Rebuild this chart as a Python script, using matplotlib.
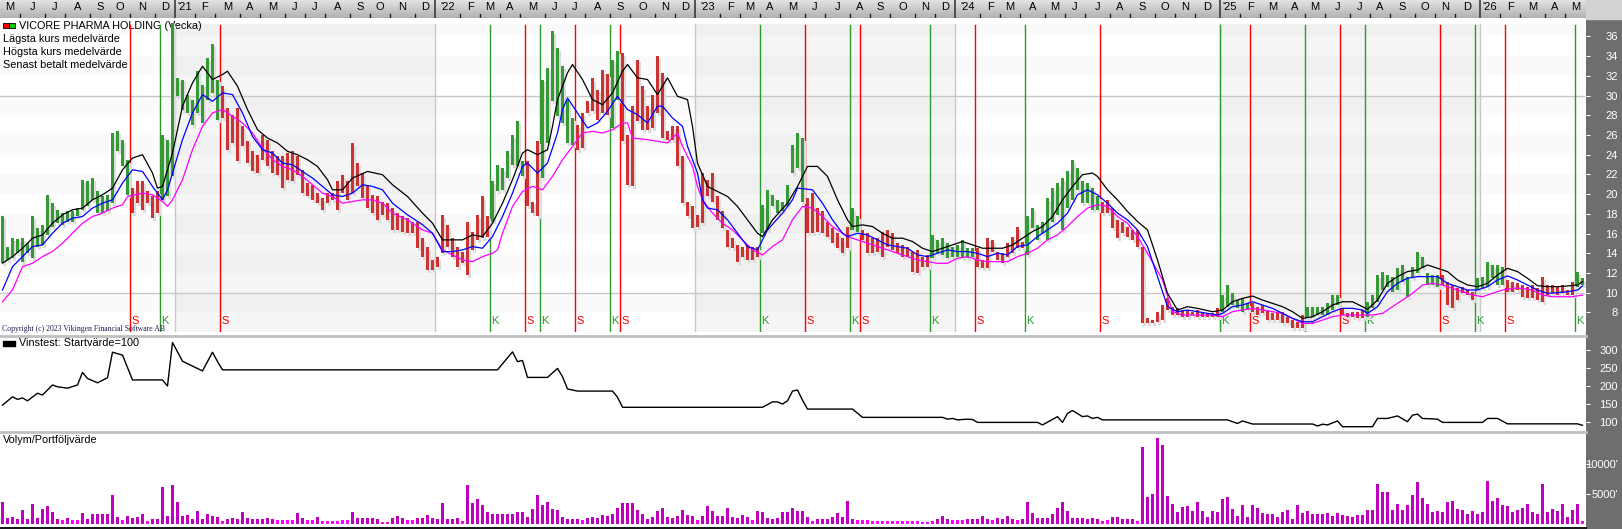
import matplotlib
matplotlib.use("Agg")
import matplotlib.pyplot as plt
import matplotlib.transforms as mtransforms
from matplotlib.colors import LinearSegmentedColormap
from matplotlib.lines import Line2D
from matplotlib.patches import Rectangle
import numpy as np
import pandas as pd

plt.rcParams["font.family"] = ["Liberation Sans", "DejaVu Sans"]

W, H = 1622, 529
PLOT_RIGHT = 1586

first_monday = "2020-05-04"

# weekly high / low (SEK)
highs = [
    17.73, 14.68, 15.53, 15.42, 15.53, 15.02, 17.73, 16.54, 16.88, 19.93,
    19.08, 18.41, 18.07, 18.24, 18.24, 18.58, 21.46, 21.29, 21.63, 20.27,
    19.76, 19.93, 26.2, 26.37, 25.53, 23.49, 20.61, 21.29, 21.29, 20.27,
    19.76, 20.27, 26.03, 25.53, 37.39, 31.8, 31.63, 30.1, 29.59, 32.47,
    31.12, 33.83, 35.19, 31.63, 30.95, 28.75, 28.07, 28.75, 26.88, 25.36,
    24.34, 24.0, 26.03, 25.53, 24.34, 23.83, 23.83, 24.17, 24.34, 23.83,
    22.47, 21.12, 20.95, 20.1, 19.59, 20.1, 20.1, 21.29, 21.97, 21.29,
    25.19, 23.15, 22.14, 20.95, 19.93, 19.76, 19.25, 19.08, 18.58, 18.07,
    17.73, 17.56, 17.22, 17.22, 15.53, 14.68, 13.32, 13.66, 17.9, 16.88,
    15.53, 14.68, 14.17, 17.22, 16.2, 17.9, 19.76, 17.73, 21.29, 22.98,
    22.64, 24.34, 26.03, 27.39, 23.32, 23.32, 19.25, 25.36, 31.63, 32.81,
    36.54, 34.85, 32.98, 29.59, 27.73, 27.05, 28.24, 29.42, 31.8, 30.61,
    32.64, 32.14, 33.66, 34.51, 34.34, 26.03, 28.92, 33.66, 30.95, 28.92,
    30.1, 34.0, 32.31, 26.37, 26.88, 26.88, 23.83, 19.25, 18.75, 17.9,
    22.14, 21.46, 22.14, 19.76, 18.24, 16.37, 15.53, 14.85, 14.68, 14.85,
    14.68, 14.68, 18.92, 20.44, 19.93, 19.42, 19.25, 20.95, 25.02, 26.2,
    25.69, 19.59, 20.1, 18.58, 18.24, 17.22, 16.54, 16.03, 15.53, 16.71,
    18.58, 17.73, 16.37, 16.03, 15.53, 15.53, 16.2, 16.37, 16.03, 15.02,
    14.85, 14.68, 14.17, 14.34, 13.66, 13.83, 15.86, 15.36, 15.53, 15.02,
    14.68, 14.85, 15.36, 14.51, 14.51, 14.51, 13.32, 15.53, 15.36, 14.17,
    14.0, 15.02, 15.69, 16.71, 15.19, 17.73, 18.58, 16.88, 17.22, 19.59,
    20.61, 21.12, 21.63, 22.3, 23.49, 22.64, 21.29, 21.12, 20.61, 19.76,
    19.25, 19.42, 18.58, 17.39, 17.22, 16.71, 16.37, 16.37, 14.68, 7.39,
    7.22, 8.07, 8.75, 9.42, 8.58, 8.41, 8.24, 8.24, 8.07, 8.24,
    8.07, 7.97, 7.97, 8.41, 9.76, 10.78, 9.93, 9.25, 9.42, 8.92,
    8.92, 8.58, 8.75, 8.24, 7.9, 7.9, 8.07, 7.56, 7.22, 7.05,
    7.73, 8.58, 8.58, 8.58, 8.58, 8.92, 9.76, 9.76, 8.41, 7.9,
    8.07, 8.07, 8.24, 9.08, 9.76, 11.8, 12.14, 11.8, 11.63, 12.47,
    12.81, 11.63, 12.64, 14.17, 13.66, 11.97, 11.8, 11.8, 11.8, 11.12,
    10.78, 10.44, 10.61, 10.27, 10.1, 11.46, 11.63, 13.15, 12.81, 12.81,
    12.64, 11.29, 11.12, 10.95, 10.78, 10.61, 10.78, 10.44, 11.63, 10.78,
    10.78, 10.61, 10.78, 10.27, 11.12, 12.14, 11.46,
]
lows = [
    12.98, 13.32, 13.49, 14.0, 13.15, 14.0, 13.49, 14.68, 14.85, 15.86,
    16.71, 17.05, 16.88, 17.22, 17.22, 17.73, 18.41, 18.75, 19.42, 18.07,
    18.07, 18.24, 19.08, 24.34, 22.81, 19.93, 18.07, 19.08, 18.41, 19.08,
    17.56, 18.07, 19.42, 19.76, 21.8, 29.93, 28.58, 28.24, 27.05, 28.24,
    27.22, 29.59, 30.27, 27.56, 27.73, 24.51, 25.19, 23.32, 24.85, 23.15,
    22.3, 22.14, 23.49, 22.81, 22.14, 21.97, 20.61, 21.46, 21.29, 21.97,
    20.1, 19.76, 19.42, 19.08, 18.41, 19.08, 19.42, 18.41, 20.1, 19.42,
    20.1, 20.78, 19.59, 18.58, 18.07, 17.39, 17.9, 17.39, 16.37, 16.37,
    16.2, 16.03, 16.03, 14.51, 13.66, 12.31, 12.31, 12.64, 14.0, 14.68,
    13.66, 12.64, 12.98, 11.8, 14.34, 15.36, 15.53, 15.69, 17.22, 20.27,
    20.44, 21.63, 22.98, 22.81, 21.8, 18.75, 18.07, 17.73, 21.63, 25.19,
    29.42, 27.9, 27.22, 25.19, 25.02, 24.51, 24.68, 28.24, 28.41, 27.56,
    28.24, 28.07, 26.71, 29.59, 25.36, 20.95, 20.78, 27.39, 26.54, 26.54,
    26.71, 28.24, 25.69, 25.53, 25.53, 22.81, 19.08, 17.73, 16.54, 16.71,
    17.05, 19.76, 19.25, 17.39, 16.54, 14.68, 14.51, 13.15, 13.66, 13.32,
    13.32, 13.66, 16.03, 16.37, 18.75, 18.07, 18.24, 18.75, 22.14, 22.64,
    19.25, 16.03, 16.03, 16.2, 16.03, 15.69, 15.02, 14.51, 14.0, 14.51,
    16.37, 16.2, 15.36, 14.0, 14.0, 14.17, 13.66, 14.68, 14.34, 14.0,
    13.66, 13.66, 12.14, 11.97, 12.64, 12.64, 13.49, 14.0, 13.83, 13.49,
    13.66, 13.66, 13.49, 13.49, 13.66, 12.64, 12.47, 12.47, 14.17, 13.32,
    12.98, 13.66, 14.0, 14.51, 14.51, 13.83, 16.54, 15.36, 16.03, 15.36,
    17.22, 17.9, 16.37, 18.58, 19.42, 20.44, 19.08, 19.08, 18.41, 18.41,
    18.07, 18.07, 16.54, 15.53, 16.03, 15.69, 15.36, 14.68, 6.88, 6.88,
    6.88, 7.05, 7.22, 8.24, 7.73, 7.73, 7.56, 7.56, 7.73, 7.56,
    7.56, 7.56, 7.56, 7.56, 8.07, 8.58, 8.75, 8.41, 8.07, 8.24,
    8.07, 7.73, 7.9, 7.22, 7.22, 7.22, 6.88, 6.88, 6.37, 6.37,
    6.37, 7.39, 7.56, 7.73, 7.73, 7.73, 8.24, 8.75, 7.73, 7.56,
    7.56, 7.39, 7.39, 7.56, 8.41, 9.08, 10.27, 10.61, 10.1, 10.27,
    11.12, 9.59, 11.46, 11.97, 12.47, 10.78, 10.78, 10.61, 10.78, 8.75,
    8.41, 9.25, 9.93, 9.76, 9.25, 10.27, 10.44, 10.61, 11.46, 10.78,
    10.78, 10.1, 10.1, 10.27, 9.59, 9.42, 9.42, 9.25, 9.08, 9.76,
    9.93, 9.76, 9.93, 9.76, 9.76, 10.61, 10.78,
]

# K = köp (buy), S = sälj (sell), as week numbers
buy_weeks = [32, 98, 108, 122, 152, 170, 186, 205, 244, 261, 273, 295, 315]
sell_weeks = [26, 44, 105, 115, 124, 161, 172, 195, 220, 250, 268, 288, 301]

# moving averages (week, value)
high_avg_weeks = [
    0, 2, 4, 6, 8, 10, 12, 14, 16, 18, 20, 22, 24, 26, 28, 30, 31, 32, 34, 36,
    38, 40, 42, 44, 45, 47, 49, 51, 53, 55, 57, 59, 61, 63, 65, 66, 68, 70, 73, 76,
    78, 81, 84, 86, 88, 90, 92, 94, 96, 98, 100, 102, 104, 105, 107, 109, 110, 111, 113, 114,
    116, 118, 120, 122, 124, 125, 127, 129, 131, 133, 135, 137, 138, 139, 141, 143, 145, 147, 149, 151,
    152, 154, 157, 159, 161, 163, 165, 167, 169, 170, 172, 174, 176, 178, 180, 182, 184, 186, 188, 190,
    192, 194, 196, 198, 200, 202, 204, 206, 208, 210, 212, 214, 216, 218, 219, 221, 223, 225, 227, 229,
    231, 233, 235, 237, 239, 242, 244, 246, 248, 250, 252, 254, 256, 258, 260, 262, 264, 266, 268, 270,
    272, 273, 275, 277, 279, 281, 283, 285, 287, 289, 291, 293, 295, 297, 299, 301, 303, 305, 307, 309,
    311, 313, 315, 316,
]
high_avg = [
    13.0, 13.66, 14.51, 15.53, 15.86, 17.05, 17.9, 18.41, 18.58, 19.42, 19.93, 20.61, 22.47, 23.66, 24.0, 22.14, 20.61, 20.78, 24.17, 28.92,
    31.29, 32.98, 31.63, 32.14, 32.47, 30.95, 28.58, 26.54, 25.69, 25.19, 24.34, 24.0, 23.49, 22.81, 21.46, 20.44, 20.44, 21.63, 22.3, 21.97,
    20.95, 19.76, 18.07, 17.05, 15.36, 15.36, 15.36, 15.86, 15.69, 17.05, 19.08, 21.46, 24.17, 24.51, 24.0, 24.51, 26.88, 29.59, 32.31, 33.15,
    31.63, 29.59, 29.08, 30.27, 32.47, 33.15, 31.8, 31.63, 30.1, 31.8, 29.93, 29.59, 26.88, 23.15, 20.78, 20.27, 19.76, 18.75, 17.39, 16.03,
    15.69, 17.39, 19.08, 20.78, 22.81, 22.81, 21.8, 19.42, 17.39, 16.71, 16.88, 16.71, 16.03, 15.53, 15.53, 15.19, 14.51, 14.17, 14.51, 14.85,
    15.19, 14.85, 14.51, 14.51, 14.51, 14.85, 15.53, 16.2, 16.71, 17.73, 19.42, 20.78, 21.97, 22.14, 21.8, 20.44, 19.42, 18.24, 17.22, 16.37,
    13.32, 9.93, 8.24, 8.58, 8.41, 8.07, 8.24, 9.08, 9.42, 9.66, 9.25, 8.92, 8.58, 8.07, 7.39, 7.56, 8.07, 8.75, 9.08, 9.08,
    8.58, 8.31, 9.25, 10.95, 11.63, 12.14, 12.31, 12.81, 12.47, 12.14, 11.29, 10.78, 10.61, 10.95, 11.8, 12.47, 12.14, 11.46, 10.71, 10.61,
    10.61, 10.68, 10.78, 11.12,
]
close_avg_weeks = [
    0, 2, 4, 6, 8, 10, 12, 14, 16, 18, 20, 22, 24, 26, 28, 30, 32, 33, 34, 36,
    38, 40, 42, 44, 46, 48, 50, 52, 54, 56, 58, 60, 62, 64, 66, 68, 70, 72, 74, 76,
    78, 81, 84, 86, 88, 90, 92, 94, 96, 98, 100, 102, 104, 105, 107, 109, 111, 112, 113, 115,
    117, 119, 121, 123, 125, 127, 129, 131, 132, 134, 136, 137, 139, 140, 141, 143, 145, 147, 149, 151,
    153, 156, 158, 159, 162, 164, 166, 168, 169, 171, 173, 175, 177, 179, 181, 183, 185, 187, 189, 191,
    193, 195, 197, 199, 201, 203, 205, 207, 209, 211, 213, 215, 217, 219, 221, 223, 225, 227, 229, 231,
    233, 235, 237, 239, 241, 243, 244, 246, 248, 250, 252, 254, 256, 258, 260, 262, 264, 266, 268, 270,
    272, 273, 275, 277, 279, 281, 283, 285, 287, 289, 291, 293, 295, 297, 299, 301, 303, 305, 307, 309,
    311, 313, 315, 316,
]
close_avg = [
    10.27, 12.64, 13.66, 14.68, 14.85, 16.03, 17.05, 17.56, 17.73, 18.58, 19.08, 19.42, 21.12, 22.47, 22.3, 20.78, 19.42, 20.44, 22.14, 25.53,
    28.24, 30.1, 29.42, 30.27, 30.1, 28.24, 25.86, 24.51, 24.17, 23.15, 22.98, 22.3, 21.63, 20.78, 19.93, 19.76, 20.1, 20.95, 20.78, 20.44,
    19.08, 17.9, 16.9, 16.03, 14.17, 14.17, 14.34, 14.68, 14.51, 15.69, 17.73, 20.1, 22.81, 23.15, 22.14, 23.15, 26.2, 28.58, 29.76, 28.24,
    26.71, 27.22, 28.41, 29.93, 28.58, 28.07, 27.22, 28.92, 28.92, 27.73, 26.88, 24.85, 22.14, 19.42, 18.58, 18.41, 17.39, 16.03, 14.68, 14.34,
    16.37, 18.07, 19.42, 20.61, 20.44, 19.08, 17.39, 16.03, 15.69, 16.03, 15.86, 15.36, 14.85, 14.68, 14.51, 13.83, 13.66, 14.0, 14.34, 14.17,
    14.17, 14.0, 13.66, 14.0, 13.83, 14.68, 14.85, 15.69, 16.37, 17.05, 18.07, 19.93, 20.44, 19.93, 19.08, 18.07, 17.39, 16.37, 14.68, 11.63,
    8.58, 8.07, 8.24, 8.07, 7.9, 7.73, 7.9, 8.58, 8.75, 9.08, 8.75, 8.41, 7.9, 7.39, 7.05, 7.05, 7.56, 8.07, 8.41, 8.41,
    8.24, 7.9, 8.58, 10.1, 10.95, 11.46, 11.63, 11.63, 11.63, 10.95, 10.61, 10.27, 10.27, 10.61, 11.29, 11.7, 11.29, 10.78, 10.27, 9.93,
    10.0, 10.1, 10.27, 10.68,
]
low_avg_weeks = [
    0, 2, 4, 6, 8, 10, 12, 14, 16, 18, 20, 22, 24, 25, 28, 30, 32, 33, 34, 36,
    38, 40, 42, 44, 46, 48, 50, 52, 54, 56, 58, 60, 62, 64, 66, 68, 70, 72, 74, 76,
    78, 81, 84, 86, 88, 90, 92, 94, 96, 98, 99, 100, 102, 104, 106, 108, 110, 112, 114, 116,
    118, 120, 122, 124, 125, 126, 129, 131, 133, 135, 136, 138, 139, 140, 142, 144, 146, 148, 150, 152,
    154, 156, 158, 160, 162, 164, 166, 168, 169, 171, 173, 175, 177, 179, 181, 183, 185, 187, 189, 191,
    193, 195, 197, 199, 201, 203, 205, 207, 209, 211, 213, 215, 217, 219, 221, 223, 225, 227, 229, 232,
    234, 236, 238, 240, 242, 244, 246, 248, 250, 252, 254, 256, 258, 260, 262, 264, 266, 268, 270, 272,
    274, 276, 278, 280, 282, 284, 286, 288, 290, 292, 294, 296, 298, 300, 302, 304, 306, 308, 310, 312,
    314, 316,
]
low_avg = [
    9.08, 10.27, 12.64, 12.98, 13.66, 14.17, 15.02, 16.03, 17.05, 17.73, 18.07, 18.58, 18.92, 19.76, 20.1, 19.93, 19.25, 18.75, 19.42, 21.46,
    24.51, 26.88, 28.24, 28.58, 27.9, 27.22, 26.2, 24.68, 23.49, 22.81, 22.47, 21.8, 20.95, 20.1, 19.76, 19.08, 19.25, 19.42, 19.42, 19.08,
    18.07, 17.39, 16.37, 16.03, 14.34, 13.83, 13.32, 13.15, 13.66, 14.0, 14.34, 16.03, 18.75, 20.27, 20.78, 20.44, 21.8, 23.49, 24.85, 26.2,
    26.37, 26.2, 26.54, 27.22, 27.22, 25.69, 25.53, 25.36, 25.19, 26.2, 24.85, 22.81, 20.78, 19.42, 18.07, 17.05, 16.37, 15.36, 14.34, 13.83,
    14.68, 15.36, 17.39, 18.75, 18.58, 17.73, 16.71, 16.03, 15.69, 15.36, 15.02, 14.68, 14.34, 14.0, 13.66, 13.32, 13.15, 12.98, 12.98, 13.49,
    13.66, 13.32, 13.15, 13.15, 13.15, 13.66, 14.0, 14.51, 15.36, 15.86, 16.71, 17.73, 18.58, 18.92, 18.75, 17.73, 17.05, 15.69, 14.0, 11.29,
    8.07, 7.73, 7.73, 7.73, 7.73, 7.56, 8.07, 8.24, 8.41, 8.24, 8.07, 7.9, 7.39, 6.88, 6.88, 7.22, 7.56, 7.73, 7.73, 7.73,
    7.73, 7.9, 8.58, 9.25, 9.93, 10.78, 10.95, 10.78, 10.44, 10.1, 9.76, 9.59, 9.93, 10.27, 10.44, 10.44, 10.27, 9.76, 9.59, 9.59,
    9.59, 9.76,
]

# "Vinstest" portfolio value, start value 100 (week, value)
vinst_weeks = [
    0, 2, 3, 4, 5, 7, 8, 10, 11, 13, 15, 16, 17, 19, 21, 22, 24, 26, 32, 33,
    34, 36, 40, 42, 43, 44, 99, 102, 103, 104, 105, 109, 111, 112, 113, 114, 115, 122, 123, 124,
    152, 154, 155, 156, 157, 158, 159, 160, 161, 170, 172, 188, 189, 190, 191, 193, 194, 195, 207, 208,
    211, 212, 213, 214, 216, 217, 218, 219, 220, 245, 246, 247, 248, 250, 262, 263, 264, 265, 267, 268,
    274, 275, 277, 279, 281, 282, 283, 284, 287, 288, 296, 297, 299, 301, 315, 316,
]
vinst_value = [
    146, 169, 162, 166, 158, 179, 174, 202, 197, 193, 202, 237, 220, 208, 222, 293, 285, 216, 216, 199,
    320, 268, 241, 293, 267, 244, 244, 294, 267, 270, 223, 223, 248, 225, 191, 188, 185, 185, 168, 140,
    140, 155, 155, 149, 158, 185, 188, 160, 135, 135, 112, 112, 107, 109, 105, 107, 106, 98, 98, 91,
    114, 98, 123, 131, 114, 116, 109, 112, 105, 105, 100, 95, 102, 93.5, 93.5, 88, 93, 91, 102, 86,
    86, 109, 109, 116, 100, 118, 121, 109, 107, 98, 98, 109, 109, 94, 94, 90,
]

# weekly volume, thousands of shares
volume = [
    3640, 860, 1030, 750, 2250, 690, 3250, 920, 2420, 2920,
    1920, 750, 580, 920, 580, 580, 1750, 750, 1580, 1580,
    1640, 1640, 4750, 1030, 640, 1250, 920, 1140, 1580, 470,
    750, 750, 6140, 1250, 6480, 3590, 1310, 1420, 750, 2080,
    690, 1580, 1310, 1080, 470, 690, 970, 690, 1920, 860,
    690, 690, 750, 860, 750, 580, 580, 580, 580, 1750,
    920, 580, 640, 1030, 420, 420, 420, 420, 580, 580,
    1920, 970, 860, 860, 860, 690, 250, 250, 920, 1250,
    860, 530, 530, 920, 970, 1470, 920, 690, 3420, 810,
    810, 860, 470, 6420, 3480, 4090, 3090, 1970, 1580, 1580,
    1580, 1580, 1580, 1970, 1970, 1030, 2360, 4750, 3090, 3590,
    2360, 2250, 1030, 810, 750, 750, 580, 920, 1030, 920,
    1420, 1250, 1580, 2580, 3420, 3420, 3420, 2250, 1580, 750,
    1080, 2080, 2530, 1080, 920, 1190, 2250, 1420, 1250, 580,
    1250, 2920, 2080, 1250, 1250, 2530, 1030, 920, 1420, 1030,
    580, 2080, 1970, 920, 690, 920, 1920, 1920, 2580, 2080,
    2080, 1080, 470, 750, 750, 750, 1080, 1750, 1080, 3810,
    750, 580, 580, 580, 470, 470, 470, 470, 470, 470,
    470, 470, 360, 360, 310, 310, 360, 750, 1250, 750,
    580, 580, 580, 750, 750, 750, 1250, 750, 580, 920,
    750, 1250, 750, 580, 750, 3590, 1750, 860, 860, 860,
    1580, 2640, 3590, 2080, 920, 920, 860, 750, 860, 750,
    420, 580, 1080, 1080, 750, 750, 750, 420, 12740, 4420,
    4920, 14260, 13090, 4590, 3250, 1920, 2750, 2920, 2080, 3590,
    2080, 1080, 2080, 1920, 4090, 4420, 2420, 1250, 3090, 1080,
    3090, 2580, 1750, 1580, 1580, 1080, 1920, 2250, 750, 3090,
    1750, 2080, 1580, 1580, 1580, 1750, 1250, 1750, 1420, 1250,
    1080, 1420, 1420, 2250, 2250, 6590, 5250, 5250, 2250, 3250,
    2250, 3090, 4750, 6920, 4250, 3250, 1920, 2080, 1900, 3600,
    3780, 2500, 2330, 1510, 2030, 1630, 1980, 7090, 3720, 4300,
    3080, 2910, 1980, 2330, 2620, 3260, 1860, 1630, 6570, 1860,
    2440, 2090, 3260, 1160, 2210, 3260, 470,
]

price_ticks = list(range(8, 37, 2))
vinst_ticks = [100, 150, 200, 250, 300]
volume_ticks = [5000, 10000]
month_letters = "JFMAMJJASOND"

GREEN = "#359a35"
RED = "#cc3333"
SIG_GREEN = "#2e9a2e"
SIG_RED = "#ff0000"

# main panel spans pixel rows 19..332; shaded plot area starts at row 24
MAIN_TOP, MAIN_BOT = 19, 332
SHADE_TOP = (MAIN_BOT - 24) / (MAIN_BOT - MAIN_TOP)


def box(x0, y0, x1, y1):
    """Pixel box (top-left origin) -> figure fraction [left, bottom, w, h]."""
    return [x0 / W, 1 - y1 / H, (x1 - x0) / W, (y1 - y0) / H]


def style_panel(ax, ticks, labels, ylim):
    ax.set_xlim(-0.5, 316.7)
    ax.set_ylim(*ylim)
    for s in ax.spines.values():
        s.set_visible(False)
    ax.set_xticks([])
    ax.set_yticks(ticks)
    ax.set_yticklabels(labels)
    ax.tick_params(axis="y", left=False, labelleft=False, right=True, labelright=True,
                   direction="out", length=3, width=0.8, color="white",
                   labelcolor="white", labelsize=8, pad=20)
    for lbl in ax.get_yticklabels():
        lbl.set_horizontalalignment("right")


n = len(highs)
assert len(lows) == n and len(volume) == n
weeks = np.arange(n)
hi = np.array(highs)
lo = np.array(lows)
dates = pd.date_range(first_monday, periods=n, freq="7D")

# bar colour follows the latest K/S signal
signal_at = {w: "K" for w in buy_weeks}
signal_at.update({w: "S" for w in sell_weeks})
state = "K"
bar_colors = []
for i in weeks:
    state = signal_at.get(i, state)
    bar_colors.append(GREEN if state == "K" else RED)

month_starts = [i for i in range(1, n) if dates[i].month != dates[i - 1].month]
year_starts = [i for i in month_starts if dates[i].month == 1]

fig = plt.figure(figsize=(W / 100, H / 100), dpi=100)
fig.patch.set_facecolor("white")
fig.patches.append(Rectangle((PLOT_RIGHT / W, 0), 1 - PLOT_RIGHT / W, 1 - 19 / H,
                             transform=fig.transFigure, color="#6e6e6e", zorder=-1))
fig.patches.append(Rectangle((PLOT_RIGHT / W, 1 - 19 / H), 1 - PLOT_RIGHT / W, 19 / H,
                             transform=fig.transFigure, color="#d2d2d2", zorder=-1))

# ---- month strip ----
ax_top = fig.add_axes(box(0, 0, PLOT_RIGHT, 18))
grad = LinearSegmentedColormap.from_list("strip", ["#b2b2b2", "#e2e2e2"])
ax_top.imshow(np.linspace(0, 1, 32).reshape(-1, 1)[::-1], cmap=grad, aspect="auto",
              extent=(-0.5, 316.7, 0, 1), origin="upper")
ax_top.set_xlim(-0.5, 316.7)
ax_top.set_ylim(0, 1)
ax_top.axis("off")
bounds = [-0.5] + [i - 0.5 for i in month_starts] + [316.7]
seg_starts = [0] + month_starts
for k, start in enumerate(seg_starts):
    d = dates[start]
    txt = "'" + d.strftime("%y") if d.month == 1 else month_letters[d.month - 1]
    ax_top.text((bounds[k] + bounds[k + 1]) / 2, 0.6, txt, ha="center", va="center",
                fontsize=8, color="black")
for i in month_starts:
    if i in year_starts:
        ax_top.axvline(i - 0.5, color="#3a3a3a", lw=1.2)
    else:
        ax_top.plot([i - 0.5, i - 0.5], [0, 0.2], color="#202020", lw=1)

# ---- price panel ----
ax = fig.add_axes(box(0, MAIN_TOP, PLOT_RIGHT, MAIN_BOT))
ax.set_facecolor("white")
ylim_main = (6.01, 37.77)
style_panel(ax, price_ticks, [str(t) for t in price_ticks], ylim_main)
shade_top_val = ylim_main[0] + SHADE_TOP * (ylim_main[1] - ylim_main[0])
edges = [-0.5] + [i - 0.5 for i in year_starts] + [316.2]
for k in range(len(edges) - 1):
    ax.axvspan(edges[k], edges[k + 1], ymax=SHADE_TOP,
               color="#f5f5f5" if k % 2 == 1 else "white", lw=0, zorder=0)
for v in range(8, 38, 4):
    ax.fill_between([-0.5, 316.2], v, min(v + 2, shade_top_val), color="black",
                    alpha=0.02, lw=0, zorder=0.1)
for v in (10, 30):
    ax.plot([-0.5, 316.2], [v, v], color="#c8c8c8", lw=1, zorder=0.5)
for i in year_starts:
    ax.axvline(i - 0.5, ymax=SHADE_TOP, color="#c8c8c8", lw=1, zorder=0.5)

blend = mtransforms.blended_transform_factory(ax.transData, ax.transAxes)
sig_top = (MAIN_BOT - 25) / (MAIN_BOT - MAIN_TOP)
sig_text_y = (MAIN_BOT - 321.5) / (MAIN_BOT - MAIN_TOP)
for w in buy_weeks:
    ax.plot([w - 0.5, w - 0.5], [0, sig_top], color=SIG_GREEN, lw=1, transform=blend, zorder=2)
    ax.text(w - 0.2, sig_text_y, "K", color=SIG_GREEN, fontsize=8, ha="left", va="center",
            transform=blend, zorder=2)
for w in sell_weeks:
    ax.plot([w - 0.5, w - 0.5], [0, sig_top], color=SIG_RED, lw=1, transform=blend, zorder=2)
    ax.text(w - 0.2, sig_text_y, "S", color=SIG_RED, fontsize=8, ha="left", va="center",
            transform=blend, zorder=2)

ax.bar(weeks + 0.4, hi - lo, bottom=lo - 0.3, width=0.6, color="#dcdcdc", lw=0, zorder=2.5)
ax.bar(weeks, hi - lo, bottom=lo, width=0.6, color=bar_colors, lw=0, zorder=3)

ax.plot(low_avg_weeks, low_avg, color="#ff00ff", lw=0.9, zorder=4)
ax.plot(close_avg_weeks, close_avg, color="#0000ff", lw=0.9, zorder=4.1)
ax.plot(high_avg_weeks, high_avg, color="black", lw=0.9, zorder=4.2)

legend_lines = ["VICORE PHARMA HOLDING (Vecka)", "Lägsta kurs medelvärde",
                "Högsta kurs medelvärde", "Senast betalt medelvärde"]
for k, line in enumerate(legend_lines):
    x = 19 if k == 0 else 3.3
    y = (MAIN_BOT - (25.7 + 13.1 * k)) / (MAIN_BOT - MAIN_TOP)
    ax.text(x / PLOT_RIGHT, y, line, transform=ax.transAxes, fontsize=7.8,
            ha="left", va="center", color="black", zorder=1.5)
icon_y = (MAIN_BOT - 28.3) / (MAIN_BOT - MAIN_TOP)
icon_h = 5 / (MAIN_BOT - MAIN_TOP)
ax.add_patch(Rectangle((3.3 / PLOT_RIGHT, icon_y), 6 / PLOT_RIGHT, icon_h,
                       transform=ax.transAxes, facecolor="#ff0000", edgecolor="black", lw=0.6, zorder=1.6))
ax.add_patch(Rectangle((9.3 / PLOT_RIGHT, icon_y), 6 / PLOT_RIGHT, icon_h,
                       transform=ax.transAxes, facecolor="#00cc00", edgecolor="black", lw=0.6, zorder=1.6))
ax.text(1.7 / PLOT_RIGHT, -0.003, "Copyright (c) 2023 Vikingen Financial Software AB",
        transform=ax.transAxes, fontsize=5.6, family=["Liberation Serif", "DejaVu Serif"],
        color="#1c1c50", ha="left", va="bottom", zorder=5)

# ---- Vinstest panel ----
ax_w = fig.add_axes(box(0, 338, PLOT_RIGHT, 431))
style_panel(ax_w, vinst_ticks, [str(t) for t in vinst_ticks], (74.1, 332.5))
ax_w.plot(vinst_weeks, vinst_value, color="black", lw=1)
ax_w.add_patch(Rectangle((3.3 / PLOT_RIGHT, (431 - 345.7) / 93), 11.7 / PLOT_RIGHT, 5 / 93,
                         transform=ax_w.transAxes, color="black"))
ax_w.text(19 / PLOT_RIGHT, (431 - 343.5) / 93, "Vinstest: Startvärde=100", transform=ax_w.transAxes,
          fontsize=7.8, ha="left", va="center")

# ---- volume panel ----
ax_v = fig.add_axes(box(0, 433.5, PLOT_RIGHT, 527))
style_panel(ax_v, volume_ticks, [f"{t}'" for t in volume_ticks], (-583, 15000))
vol_colors = ["#ff00ff" if v < 650 else "#bf00bf" for v in volume]
ax_v.bar(weeks, volume, width=0.6, color=vol_colors, lw=0)
ax_v.text(3 / PLOT_RIGHT, (527 - 440) / 93.5, "Volym/Portföljvärde", transform=ax_v.transAxes,
          fontsize=7.8, ha="left", va="center")

# panel separators
for y, c, lw in ((336.3, "#c0c0c0", 2.0), (432.3, "#c0c0c0", 2.0), (527.8, "black", 1.3)):
    fig.add_artist(Line2D([0, PLOT_RIGHT / W], [1 - y / H, 1 - y / H], color=c, lw=lw,
                          transform=fig.transFigure))

fig.savefig("out.png", dpi=100)
